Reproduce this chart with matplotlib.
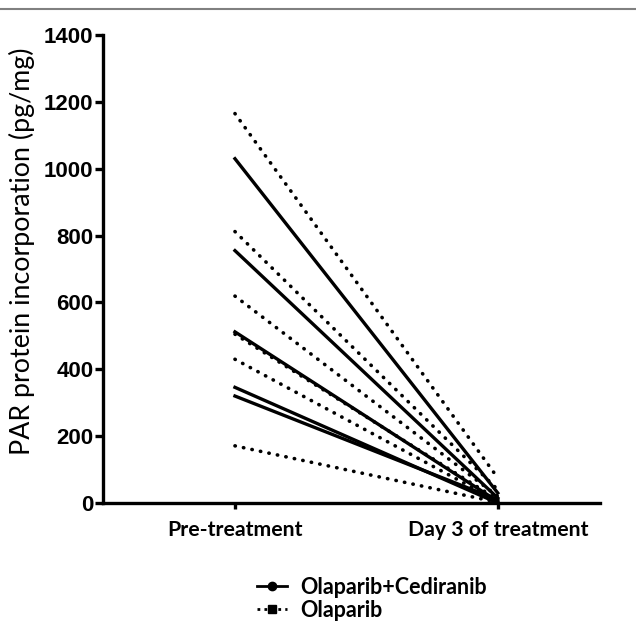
import matplotlib
matplotlib.use("Agg")
import matplotlib.pyplot as plt
import matplotlib.transforms as mtransforms
from matplotlib.lines import Line2D

# timepoints
timepoints = ["Pre-treatment", "Day 3 of treatment"]

# Olaparib+Cediranib patients (pre, day 3)
combo_pre = [1030, 755, 512, 346, 320]
combo_day3 = [30, 15, 5, 0, 10]

# Olaparib patients (pre, day 3)
ola_pre = [1165, 812, 619, 505, 430, 171]
ola_day3 = [75, 40, 20, 10, 5, 2]

yticks = [0, 200, 400, 600, 800, 1000, 1200, 1400]

fig = plt.figure(figsize=(6.36, 6.23), dpi=100)
ax = fig.add_axes([0.162, 0.1926, 0.781, 0.7512])

xs = [0, 1]
for a, b in zip(ola_pre, ola_day3):
    ax.plot(xs, [a, b], color='black', linestyle=(0, (0.1, 2.3)), linewidth=2.6,
            dash_capstyle='round')
for a, b in zip(combo_pre, combo_day3):
    ax.plot(xs, [a, b], color='black', linestyle='-', linewidth=2.4)

ax.set_xlim(-0.502, 1.388)
ax.set_ylim(0, 1400)
ax.set_yticks(yticks)
ax.set_yticklabels([str(t) for t in yticks], fontsize=16, fontweight='bold',
                   family='Liberation Sans')
ax.set_xticks(xs)
ax.set_xticklabels(timepoints, fontsize=15.3, fontweight='bold', family='Lato')
# first label sits a little left of its tick in the original
lbl = ax.get_xticklabels()[0]
lbl.set_transform(lbl.get_transform() +
                  mtransforms.ScaledTranslation(-0.12, 0, fig.dpi_scale_trans))

for side in ['top', 'right']:
    ax.spines[side].set_visible(False)
for side in ['left', 'bottom']:
    ax.spines[side].set_linewidth(2.4)
ax.tick_params(axis='y', width=2.4, length=6, pad=1)
ax.tick_params(axis='x', width=2.4, length=4, pad=8)

ax.set_ylabel('PAR protein incorporation (pg/mg)', fontsize=19.3, family='Lato',
              labelpad=6, y=0.538)

handles = [
    Line2D([], [], color='black', linestyle='-', linewidth=2, marker='o',
           markersize=6, label='Olaparib+Cediranib'),
    Line2D([], [], color='black', linestyle=(0, (1, 1.5)), linewidth=2, marker='s',
           markersize=6, label='Olaparib'),
]
fig.legend(handles=handles, loc='center left', bbox_to_anchor=(0.404, 0.039),
           frameon=False, borderpad=0, borderaxespad=0,
           prop={'family': 'Lato', 'weight': 'bold', 'size': 15.5},
           handlelength=1.4, handletextpad=0.6, labelspacing=0.1)

# thin gray rule along the top of the figure
fig.add_artist(Line2D([0, 1], [0.986, 0.986], color='#808080', linewidth=1.5,
                      transform=fig.transFigure))

fig.savefig('out.png', dpi=100)
